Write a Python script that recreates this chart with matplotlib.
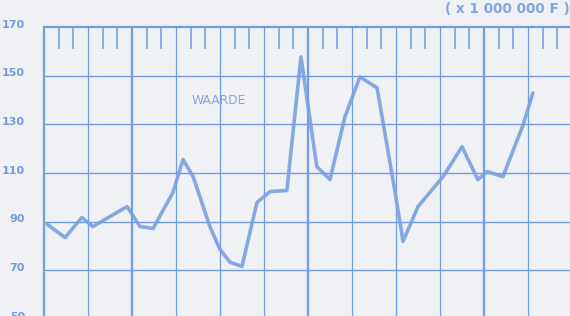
import matplotlib.pyplot as plt
from matplotlib.transforms import ScaledTranslation

# position along the x axis, in grid columns (3 ticks per column)
periods = [0.07, 0.48, 0.86, 1.11, 1.89, 2.18, 2.48, 2.93, 3.16, 3.39,
           3.77, 4.0, 4.23, 4.5, 4.84, 5.14, 5.52, 5.84, 6.2, 6.5,
           6.84, 7.18, 7.57, 7.98, 8.16, 8.5, 9.07, 9.5, 9.86, 10.07,
           10.43, 10.89, 11.11]
waarde = [88.9, 83.5, 91.7, 88.0, 96.2, 88.0, 87.2, 102.0, 115.5, 108.5,
          88.0, 78.6, 73.3, 71.6, 97.9, 102.4, 102.8, 157.7, 112.6, 107.3,
          133.1, 149.5, 145.0, 102.0, 81.9, 96.2, 108.5, 120.8, 107.3, 110.6,
          108.5, 129.8, 142.9]
y_ticks = [50, 70, 90, 110, 130, 150, 170]
unit_label = "( x 1 000 000 F )"
series_label = "WAARDE"

paper = "#eff1f4"
ink = "#739cde"
pen = "#7aa0e2"

fig = plt.figure(figsize=(5.7, 3.16), dpi=100, facecolor=paper)
ax = fig.add_axes([44 / 570, -3 / 316, 1 - 44 / 570, 292 / 316])
ax.set_facecolor(paper)

ax.set_xlim(0, 526 / 44)
ax.set_ylim(50, 170)

# grid: thin every column, heavier every fourth
for x in range(1, 12):
    lw = 1.6 if x % 4 == 2 else 0.9
    ax.axvline(x, color=ink, lw=lw, zorder=1)
for y in y_ticks[1:-1]:
    ax.axhline(y, color=ink, lw=1.0, zorder=1)

ax.plot(periods, waarde, color=pen, lw=2.6, alpha=0.9,
        solid_joinstyle="round", solid_capstyle="round", zorder=3)

for side in ("right", "bottom"):
    ax.spines[side].set_visible(False)
for side in ("left", "top"):
    ax.spines[side].set_color(ink)
    ax.spines[side].set_linewidth(1.6)

# value labels, drawn a touch above their grid lines like the original
ax.set_yticks([])
lift = ax.get_yaxis_transform() + ScaledTranslation(-19 / 100, 2.5 / 100, fig.dpi_scale_trans)
for v in y_ticks:
    ax.text(0, v, str(v), transform=lift, ha="right", va="center",
            fontsize=8, fontweight="bold", color=ink, clip_on=False)

# minor marks hanging from the top edge
top_ticks = [k + f for k in range(12) for f in (1 / 3, 2 / 3)]
ax.xaxis.tick_top()
ax.set_xticks(top_ticks)
ax.set_xticklabels([])
ax.tick_params(axis="x", direction="in", length=16, width=1.1, color=ink)

ax.text(3.98, 140, series_label, ha="center", va="center",
        fontsize=8.8, color="#86a6dc", zorder=4)
fig.text(445 / 570, 1 - 9 / 316, unit_label, ha="left", va="center",
         fontsize=9.8, color="#82a6e0", fontweight="bold")

fig.savefig("out.png", dpi=100, facecolor=paper)
